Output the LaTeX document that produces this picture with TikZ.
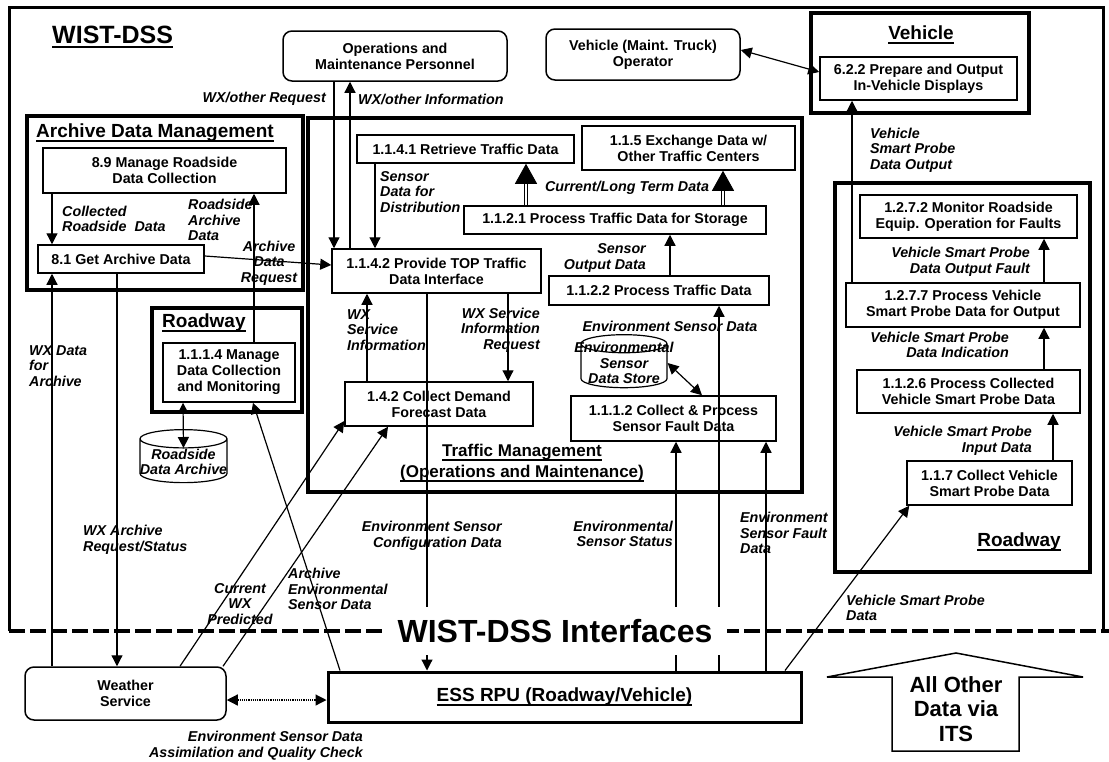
\documentclass[tikz,border=0pt]{standalone}
\usepackage{fontspec}
\setmainfont{Liberation Sans}
\usetikzlibrary{arrows.meta,shapes.geometric}
\newcommand\boxfont{\fontsize{14.3}{16}\selectfont\bfseries}
\newcommand\flowfont{\fontsize{14.3}{15.5}\selectfont\bfseries\itshape}
\newcommand\titlefont{\fontsize{19}{21}\selectfont\bfseries}
\newsavebox\ulbox
\newcommand\thickul[1]{\sbox\ulbox{#1}\rlap{\rule[-4pt]{\wd\ulbox}{1.7pt}}\usebox\ulbox}

\begin{document}
\begin{tikzpicture}[x=1pt,y=-1pt,
    proc/.style={draw,line width=1.5pt,rectangle,align=center,inner sep=1pt,font=\boxfont},
    ext/.style={proc,rounded corners=9pt},
    group/.style={draw,line width=4.5pt,rectangle,inner sep=0pt},
    store/.style={draw,line width=1.2pt,cylinder,shape border rotate=90,aspect=0.21,inner sep=0pt,minimum height=53},
    flow/.style={align=left,inner sep=0pt,font=\flowfont},
    tip/.style={line width=1.2pt,-{Triangle[width=11pt,length=11pt]}},
    tips/.style={line width=1.2pt,{Triangle[width=11pt,length=11pt]}-{Triangle[width=11pt,length=11pt]}},
    bigtip/.style={double,double distance=2pt,line width=1pt,-{Triangle[width=22pt,length=20pt]}}]
\useasboundingbox (0,0) rectangle (1109,761);

\draw[line width=3pt] (9,631) -- (9,7) -- (1103,7) -- (1103,631);
\node[anchor=west,inner sep=0pt,font=\fontsize{25}{28}\selectfont\bfseries] (ttl) at (52,37) {\thickul{WIST-DSS}};

\node[group,minimum width=218,minimum height=100] (vehgrp) at (920,63) {};
\node[font=\titlefont] (vehttl) at (921,35) {\thickul{Vehicle}};
\node[group,minimum width=276,minimum height=174] (adm) at (165,203) {};
\node[anchor=west,inner sep=0pt,font=\titlefont] (admttl) at (36,133) {\thickul{Archive Data Management}};
\node[group,minimum width=150,minimum height=104] (rdwyl) at (227,360) {};
\node[anchor=west,inner sep=0pt,font=\titlefont] (rdwylttl) at (162,323) {\thickul{Roadway}};
\node[group,minimum width=494,minimum height=374] (tm) at (555,305) {};
\node[align=center,font=\fontsize{17}{21}\selectfont\bfseries] (tmttl) at (522,463) {\thickul{Traffic Management}\\\thickul{(Operations and Maintenance)}};
\node[group,minimum width=255,minimum height=389] (rdwyr) at (962.5,377.5) {};
\node[font=\titlefont] (rdwyrttl) at (1019,542) {\thickul{Roadway}};

\node[ext,minimum width=224,minimum height=50] (ops) at (395,56) {Operations and\\Maintenance Personnel};
\node[ext,minimum width=194,minimum height=51] (vop) at (643,54.5) {Vehicle (Maint. Truck)\\Operator};
\node[proc,minimum width=197,minimum height=43] (n622) at (918.5,78.5) {6.2.2 Prepare and Output\\In-Vehicle Displays};
\node[proc,minimum width=243,minimum height=45] (n89) at (164.5,170.5) {8.9 Manage Roadside\\Data Collection};
\node[proc,minimum width=166,minimum height=28] (n81) at (121,259) {8.1 Get Archive Data};
\node[proc,minimum width=132,minimum height=59] (n1114) at (229,372.5) {1.1.1.4 Manage\\Data Collection\\and Monitoring};
\node[store] (rda) at (183.5,461) {\hspace*{87pt}};
\node[flow,align=center] (rdatxt) at ([yshift=-1pt]rda.center) {Roadside\\Data Archive};
\node[proc,minimum width=217,minimum height=28] (n1141) at (465.5,149) {1.1.4.1 Retrieve Traffic Data};
\node[proc,minimum width=213,minimum height=44] (n115) at (688.5,148) {1.1.5 Exchange Data w/\\Other Traffic Centers};
\node[proc,minimum width=302,minimum height=28] (n1121) at (615,220) {1.1.2.1 Process Traffic Data for Storage};
\node[proc,minimum width=209,minimum height=44] (n1142) at (436.5,271) {1.1.4.2 Provide TOP Traffic\\Data Interface};
\node[proc,minimum width=220,minimum height=29] (n1122) at (659,290.5) {1.1.2.2 Process Traffic Data};
\node[proc,minimum width=188,minimum height=44] (n142) at (439,404) {1.4.2 Collect Demand\\Forecast Data};
\node[store] (esds) at (624,366) {\hspace*{86pt}};
\node[flow,align=center] (esdstxt) at ([yshift=3pt]esds.center) {Environmental\\Sensor\\Data Store};
\node[proc,minimum width=205,minimum height=45] (n1112) at (673.5,418.5) {1.1.1.2 Collect \& Process\\Sensor Fault Data};
\node[proc,minimum width=217,minimum height=43] (n1272) at (968.5,216.5) {1.2.7.2 Monitor Roadside\\Equip. Operation for Faults};
\node[proc,minimum width=234,minimum height=44] (n1277) at (963,305) {1.2.7.7 Process Vehicle\\Smart Probe Data for Output};
\node[proc,minimum width=223,minimum height=43] (n1126) at (968.5,391.5) {1.1.2.6 Process Collected\\Vehicle Smart Probe Data};
\node[proc,minimum width=165,minimum height=44] (n117) at (989.5,483) {1.1.7 Collect Vehicle\\Smart Probe Data};
\node[ext,minimum width=201,minimum height=53] (wx) at (125.5,693.5) {Weather\\Service};
\node[proc,line width=3pt,minimum width=473,minimum height=50,font=\titlefont] (rpu) at (564.5,697) {\thickul{ESS RPU (Roadway/Vehicle)}};

\draw[tip] ([xshift=-112.5pt]n89.south) -- ([xshift=-112.5pt]n89.south |- n81.north);
\draw[tip] ([xshift=25pt]n1114.north) -- ([xshift=25pt]n1114.north |- n89.south);
\draw[tip] ([yshift=3pt]n81.east) -- ([yshift=6pt]n1142.west);
\draw[tip] ([xshift=-61pt]ops.south) -- ([xshift=-61pt]ops.south |- n1142.north);
\draw[tip] ([xshift=-86.5pt]n1142.north) -- ([xshift=-86.5pt]n1142.north |- ops.south);
\draw[tip] ([xshift=-90.5pt]n1141.south) -- ([xshift=-90.5pt]n1141.south |- n1142.north);
\draw[bigtip] ([xshift=-89pt]n1121.north) -- ([xshift=-89pt]n1121.north |- n1141.south);
\draw[bigtip] ([xshift=108pt]n1121.north) -- ([xshift=108pt]n1121.north |- n115.south);
\draw[tip] ([xshift=11pt]n1122.north) -- ([xshift=11pt]n1122.north |- n1121.south);
\draw[tip] ([xshift=-72pt]n142.north) -- ([xshift=-72pt]n142.north |- n1142.south);
\draw[tip] ([xshift=71.5pt]n1142.south) -- ([xshift=71.5pt]n1142.south |- n142.north);
\draw[tips] ([yshift=3pt]esds.east) -- ([xshift=28.5pt]n1112.north);
\draw[tip] ([xshift=154.5pt]rpu.north) -- ([xshift=154.5pt]rpu.north |- n1122.south);
\draw[tip] ([xshift=111.5pt]rpu.north) -- ([xshift=111.5pt]rpu.north |- n1112.south);
\draw[tip] ([xshift=201.5pt]rpu.north) -- ([xshift=201.5pt]rpu.north |- n1112.south);
\draw[tip] ([xshift=-9.5pt]n1142.south) -- ([xshift=-9.5pt]n1142.south |- rpu.north);
\draw[tips] ([xshift=-46pt]n1114.south) -- ([yshift=13pt]rda.center);
\draw[tip] ([xshift=-73.5pt]wx.north) -- ([xshift=-73.5pt]wx.north |- n81.south);
\draw[tip] ([xshift=-4pt]n81.south) -- ([xshift=-4pt]n81.south |- wx.north);
\draw[tip] ([xshift=54.5pt]wx.north) -- ([yshift=-17pt]n142.west);
\draw[tip] ([xshift=97.5pt]wx.north) -- ([xshift=-51pt]n142.south);
\draw[tip] ([xshift=-224.5pt]rpu.north) -- ([xshift=24pt]n1114.south);
\draw[tip] ([xshift=220.5pt]rpu.north) -- ([xshift=3pt]n117.south west);
\draw[tips,densely dotted] ([yshift=-6.5pt]wx.east) -- ([yshift=-3pt]rpu.west);
\draw[tips] ([yshift=4.5pt]vop.east) -- ([yshift=6.5pt]n622.west);
\draw[tip] ([xshift=-111pt]n1277.north) -- ([xshift=-111pt]n1277.north |- n622.south);
\draw[tip] ([xshift=81pt]n1277.north) -- ([xshift=81pt]n1277.north |- n1272.south);
\draw[tip] ([xshift=75.5pt]n1126.north) -- ([xshift=75.5pt]n1126.north |- n1277.south);
\draw[tip] ([xshift=63.5pt]n117.north) -- ([xshift=63.5pt]n117.north |- n1126.south);

\node[flow,anchor=west] (lcoll) at (62,219) {Collected\\Roadside~~Data};
\node[flow,anchor=west] (lrarch) at (188,220) {Roadside\\Archive\\Data};
\node[flow,align=center] (lareq) at (269,263) {Archive\\Data\\Request};
\node[flow,anchor=east] (lwxreq) at (326,99) {WX/other Request};
\node[flow,anchor=west] (lwxinfo) at (358,99) {WX/other Information};
\node[flow,anchor=west] (ldist) at (380,192) {Sensor\\Data for\\Distribution};
\node[flow] (lcurr) at (627,188) {Current/Long Term Data};
\node[flow,anchor=east,align=right] (lsout) at (646,258) {Sensor\\Output Data};
\node[flow,anchor=west] (lwxsi) at (347,330) {WX\\Service\\Information};
\node[flow,anchor=east,align=right] (lwxsir) at (540,330) {WX Service\\Information\\Request};
\node[flow] (lesd) at (670,326) {Environment Sensor Data};
\node[flow,anchor=east,align=right] (lestat) at (673,534) {Environmental\\Sensor Status};
\node[flow,anchor=east,align=right] (lconf) at (502,536) {Environment Sensor\\Configuration Data};
\node[flow,anchor=west] (lfault) at (740,533) {Environment\\Sensor Fault\\Data};
\node[flow,anchor=west] (lwxarch) at (29,366) {WX Data\\for\\Archive};
\node[flow,anchor=west] (lwxstat) at (83,540) {WX Archive\\Request/Status};
\node[flow,align=center] (lpred) at (240,604) {Current\\WX\\Predicted};
\node[flow,anchor=west] (laesd) at (288,589) {Archive\\Environmental\\Sensor Data};
\node[flow,anchor=west] (lvspd) at (846,608) {Vehicle Smart Probe\\Data};
\node[flow,anchor=east,align=right] (lassim) at (363,746) {Environment Sensor Data\\Assimilation and Quality Check};
\node[flow,anchor=west] (lvout) at (870,150) {Vehicle\\Smart Probe\\Data Output};
\node[flow,anchor=east,align=right] (lvfault) at (1030,262) {Vehicle Smart Probe\\Data Output Fault};
\node[flow,anchor=east,align=right] (lvind) at (1009,345) {Vehicle Smart Probe\\Data Indication};
\node[flow,anchor=east,align=right] (lvin) at (1032,441) {Vehicle Smart Probe\\Input Data};

\node[align=center,font=\fontsize{22}{24.5}\selectfont\bfseries] (its) at (956,709) {All Other\\Data via\\ITS};
\draw[line width=1.5pt] (827,677) -- (956,653) -- (1083,677) -- (1019,677) -- (1019,751) -- (892,751) -- (892,677) -- cycle;

\draw[line width=4pt,dash pattern=on 16pt off 5pt] (9,631) -- (1109,631);
\node[fill=white,minimum width=344,minimum height=48,font=\fontsize{32}{36}\selectfont\bfseries] (ifc) at (555,631) {WIST-DSS Interfaces};
\end{tikzpicture}
\end{document}
